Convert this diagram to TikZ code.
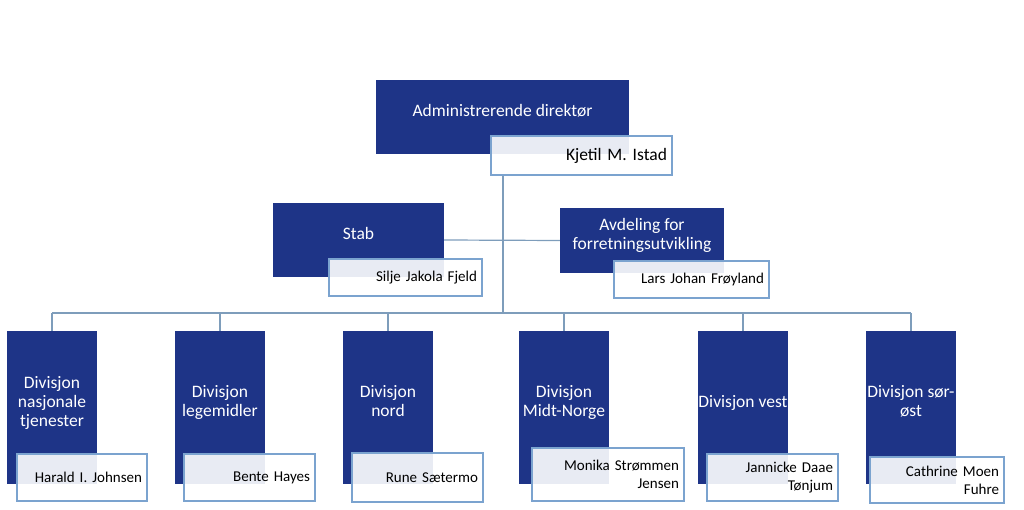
\documentclass[tikz,border=0pt]{standalone}
\usepackage{fontspec}
\setmainfont{Carlito}
\usepackage{tikz}
\usetikzlibrary{positioning,calc}
\definecolor{HSblue}{HTML}{1E3487}
\definecolor{HSframe}{HTML}{7BA3CF}
\definecolor{HSline}{HTML}{7E9DBB}
\tikzset{
  org/unit/.style={fill=HSblue, text=white, align=center, inner xsep=0pt, inner ysep=3pt,
    text depth=13pt, font=\fontsize{17.5}{19}\selectfont},
  org/person/.style={draw=HSframe, line width=1.1pt, fill=white, fill opacity=0.9,
    text opacity=1, text=black, align=right, inner xsep=5pt, inner ysep=2pt,
    font=\fontsize{15}{18}\selectfont},
  org/link/.style={draw=HSline, line width=1.2pt}
}

\begin{document}
\begin{tikzpicture}[x=1pt, y=-1pt]
\useasboundingbox (0,0) rectangle (1024,510);
% top level
\node[org/unit, minimum width=253pt, minimum height=74pt] (adm) at (502.5,117) {Administrerende direktør};
\node[org/unit, minimum width=171pt, minimum height=74pt] (stab) at (358.5,240) {Stab};
\node[org/unit, minimum width=164pt, minimum height=65pt] (avd) at (642,240.5) {Avdeling for\\forretningsutvikling};
% divisions
\node[org/unit, minimum width=90pt, minimum height=153pt] (div1) at (52,407.5) {Divisjon\\nasjonale\\tjenester};
\node[org/unit, minimum width=90pt, minimum height=153pt] (div2) at (220,407.5) {Divisjon\\legemidler};
\node[org/unit, minimum width=90pt, minimum height=153pt] (div3) at (388,407.5) {Divisjon\\nord};
\node[org/unit, minimum width=90pt, minimum height=153pt] (div4) at (564,407.5) {Divisjon\\Midt-Norge};
\node[org/unit, minimum width=90pt, minimum height=153pt] (div5) at (743,407.5) {Divisjon vest};
\node[org/unit, minimum width=90pt, minimum height=153pt] (div6) at (911,407.5) {Divisjon sør-\\øst};
% leaders
\node[org/person, font=\fontsize{17.5}{19}\selectfont, minimum width=181pt, minimum height=39pt, text width=171pt] (kjetil) at (581.5,155.5) {Kjetil M. Istad};
\node[org/person, minimum width=153pt, minimum height=37pt, text width=143pt] (silje) at (405.5,277.5) {Silje Jakola Fjeld};
\node[org/person, minimum width=155pt, minimum height=37pt, text width=145pt] (lars) at (691.5,279.5) {Lars Johan Frøyland};
\node[org/person, minimum width=130pt, minimum height=47pt, text width=120pt] (harald) at (82,477.5) {Harald I. Johnsen};
\node[org/person, minimum width=131pt, minimum height=47pt, text width=121pt] (bente) at (249.5,477.5) {Bente Hayes};
\node[org/person, minimum width=131pt, minimum height=49pt, text width=121pt] (rune) at (417.5,477.5) {Rune Sætermo};
\node[org/person, minimum width=152pt, minimum height=53pt, text width=142pt] (monika) at (608,474.5) {Monika Strømmen\\Jensen};
\node[org/person, minimum width=131pt, minimum height=47pt, text width=121pt] (jannicke) at (772.5,477.5) {Jannicke Daae\\Tønjum};
\node[org/person, minimum width=134pt, minimum height=46pt, text width=124pt] (cathrine) at (937,480) {Cathrine Moen\\Fuhre};
% connectors
\coordinate (bus) at (503,313);
\draw[org/link] (bus |- kjetil.south) -- (bus);
\draw[org/link] (stab.east) -- (avd.west);
\draw[org/link] (div1.north |- bus) -- (div6.north |- bus);
\foreach \d in {div1,div2,div3,div4,div5,div6}
  \draw[org/link] (\d.north |- bus) -- (\d.north);
\end{tikzpicture}
\end{document}
